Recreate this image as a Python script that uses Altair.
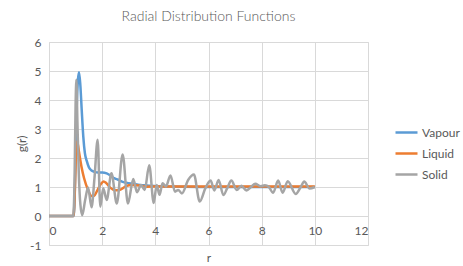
import altair as alt
import pandas as pd

# Radial distribution functions g(r) for three phases
vapour_r = [0, 0.93, 0.98, 1.04, 1.09, 1.13, 1.18, 1.23, 1.29, 1.35, 1.42, 1.50, 1.60,
            1.72, 1.85, 2.0, 2.17, 2.3, 2.42, 2.6, 2.8, 3.0, 3.2, 3.42, 3.6, 3.8, 4.03,
            4.4, 5.0, 6.0, 7.0, 8.0, 9.0, 10.0]
vapour_g = [0, 0, 1.2, 3.7, 4.7, 4.96, 4.5, 3.67, 2.74, 2.17, 1.9, 1.68, 1.57,
            1.52, 1.5, 1.5, 1.47, 1.4, 1.32, 1.25, 1.17, 1.13, 1.1, 1.07, 1.06, 1.04, 1.03,
            1.02, 1.01, 1.0, 1.0, 1.0, 1.0, 1.0]

liquid_r = [0, 0.92, 0.97, 1.01, 1.05, 1.09, 1.13, 1.22, 1.32, 1.47, 1.6, 1.7, 1.8,
            1.95, 2.05, 2.15, 2.3, 2.5, 2.65, 2.9, 3.1, 3.4, 3.7, 4.0, 5.0, 6.0, 7.0,
            8.0, 9.0, 10.0]
liquid_g = [0, 0, 0.8, 2.1, 2.57, 2.45, 2.2, 1.71, 1.3, 0.9, 0.69, 0.7, 0.85,
            1.1, 1.19, 1.14, 0.98, 0.89, 0.9, 1.03, 1.07, 1.05, 1.01, 1.02, 1.02, 1.02, 1.02,
            1.02, 1.02, 1.02]

solid_r = [0, 0.91, 0.96, 1.0, 1.03, 1.07, 1.12, 1.18, 1.25, 1.36, 1.47, 1.6, 1.71,
           1.83, 1.93, 2.04, 2.17, 2.35, 2.55, 2.77, 2.97, 3.17, 3.31, 3.46, 3.6, 3.77,
           3.94, 4.05, 4.16, 4.27, 4.4, 4.57, 4.74, 4.86, 5.0, 5.24, 5.45, 5.67, 5.88,
           6.08, 6.22, 6.38, 6.56, 6.7, 6.86, 7.06, 7.24, 7.43, 7.6, 7.76, 7.96, 8.12,
           8.27, 8.43, 8.62, 8.79, 8.98, 9.28, 9.47, 9.6, 9.8, 10.0]
solid_g = [0, 0, 1.2, 3.8, 4.7, 3.2, 1.5, 0.4, 0.03, 0.55, 0.98, 0.3, 1.3,
           2.63, 0.32, 0.96, 0.55, 1.47, 0.43, 2.12, 0.43, 1.28, 0.82, 1.07, 0.9, 1.75,
           0.45, 1.07, 0.73, 1.13, 1.02, 1.4, 0.84, 0.9, 0.78, 1.25, 1.43, 0.5, 0.95,
           1.22, 0.88, 1.24, 0.72, 0.95, 1.22, 0.9, 1.04, 0.88, 1.0, 1.11, 1.03, 1.06,
           1.0, 0.8, 1.22, 0.8, 1.2, 0.76, 1.0, 1.19, 0.95, 1.0]

series_names = ["Vapour", "Liquid", "Solid"]
series_colors = ["#5B9BD5", "#ED7D31", "#A5A5A5"]
x_ticks = [0, 2, 4, 6, 8, 10, 12]
y_ticks = [-1, 0, 1, 2, 3, 4, 5, 6]

frames = []
for name, rs, gs in zip(series_names, [vapour_r, liquid_r, solid_r],
                        [vapour_g, liquid_g, solid_g]):
    frames.append(pd.DataFrame({"r": rs, "g": gs, "series": name}))
df = pd.concat(frames, ignore_index=True)

FONT = "Lato"
TXT = "#595959"
GRID = "#D9D9D9"

chart = (
    alt.Chart(df)
    .mark_line(strokeWidth=2.5, interpolate="monotone")
    .encode(
        x=alt.X(
            "r:Q",
            scale=alt.Scale(domain=[0, 12], nice=False, zero=False),
            axis=alt.Axis(
                title="r",
                values=x_ticks,
                grid=True,
                gridColor=GRID,
                domain=False,
                ticks=False,
                offset=-29,
                labelPadding=9,
                titlePadding=16,
                labelFont=FONT,
                labelFontSize=12,
                labelColor=TXT,
                titleFont=FONT,
                titleFontSize=12,
                titleFontWeight="normal",
                titleColor=TXT,
            ),
        ),
        y=alt.Y(
            "g:Q",
            scale=alt.Scale(domain=[-1, 6], nice=False, zero=False),
            axis=alt.Axis(
                title="g(r)",
                values=y_ticks,
                labelExpr="'' + datum.value",
                grid=True,
                gridColor=GRID,
                domain=False,
                ticks=False,
                labelPadding=8,
                labelFont=FONT,
                labelFontSize=12,
                labelColor=TXT,
                titleFont=FONT,
                titleFontSize=12,
                titleFontWeight="normal",
                titleColor=TXT,
                titleX=-28,
                titleBaseline="middle",
            ),
        ),
        color=alt.Color(
            "series:N",
            scale=alt.Scale(domain=series_names, range=series_colors),
            sort=series_names,
            legend=alt.Legend(
                title=None,
                orient="none",
                legendX=345,
                legendY=78,
                symbolType="stroke",
                symbolSize=484,
                symbolStrokeWidth=2.5,
                rowPadding=2,
                labelOffset=3,
                labelFont=FONT,
                labelFontSize=12,
                labelColor=TXT,
            ),
        ),
    )
    .properties(
        width=319,
        height=203,
        title=alt.TitleParams(
            "Radial Distribution Functions",
            font=FONT,
            fontSize=14,
            fontWeight=300,
            color=TXT,
            anchor="middle",
            offset=12,
        ),
        autosize=alt.AutoSizeParams(type="none"),
        padding={"left": 49, "top": 42, "right": 95, "bottom": 21},
    )
    .configure_view(stroke=None)
    .configure(background="white")
)

chart.save("out.html", embed_options={"renderer": "svg", "actions": False})
